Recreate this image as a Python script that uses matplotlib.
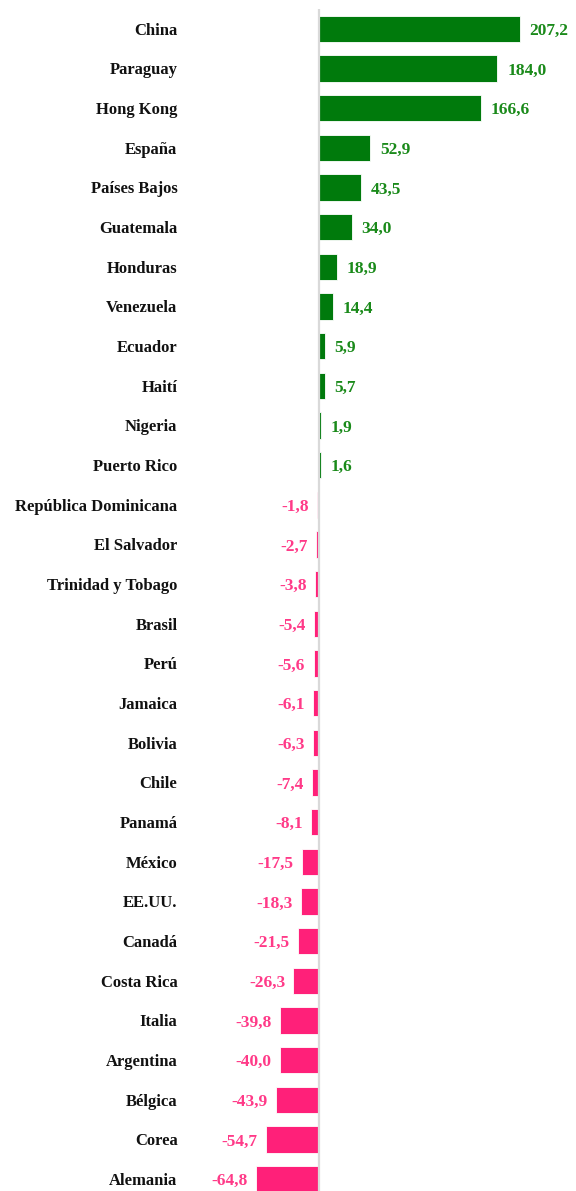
import matplotlib.pyplot as plt
import numpy as np

paises = ["China", "Paraguay", "Hong Kong", "España", "Países Bajos", "Guatemala",
          "Honduras", "Venezuela", "Ecuador", "Haití", "Nigeria", "Puerto Rico",
          "República Dominicana", "El Salvador", "Trinidad y Tobago", "Brasil", "Perú",
          "Jamaica", "Bolivia", "Chile", "Panamá", "México", "EE.UU.", "Canadá",
          "Costa Rica", "Italia", "Argentina", "Bélgica", "Corea", "Alemania"]
valores = [207.2, 184.0, 166.6, 52.9, 43.5, 34.0, 18.9, 14.4, 5.9, 5.7, 1.9, 1.6,
           -1.8, -2.7, -3.8, -5.4, -5.6, -6.1, -6.3, -7.4, -8.1, -17.5, -18.3, -21.5,
           -26.3, -39.8, -40.0, -43.9, -54.7, -64.8]

verde = "#007A0C"
rosa = "#FF2079"
verde_txt = "#1A8A1A"
rosa_txt = "#FF3A88"

plt.rcParams['font.family'] = ['Liberation Serif', 'DejaVu Serif']

fig = plt.figure(figsize=(5.76, 11.91), dpi=100)
ax = fig.add_axes([190 / 576, 0, 386 / 576, 1182 / 1191])

y = np.arange(len(paises))
colores = [verde if v > 0 else rosa for v in valores]
ax.barh(y, valores, height=0.66, color=colores, edgecolor="white", linewidth=0.6, zorder=2)
ax.axvline(0, color="#D9D9D9", linewidth=1.6, zorder=3)

for yi, v in zip(y, valores):
    txt = f"{v:.1f}".replace(".", ",")
    if v > 0:
        ax.annotate(txt, (v, yi), xytext=(7, -1.5), textcoords="offset points",
                    ha="left", va="center", color=verde_txt, fontweight="bold",
                    fontsize=12.5, annotation_clip=False)
    else:
        ax.annotate(txt, (v, yi), xytext=(-6, -1.5), textcoords="offset points",
                    ha="right", va="center", color=rosa_txt, fontweight="bold",
                    fontsize=12.5, annotation_clip=False)

ax.set_yticks(y)
ax.set_yticklabels(paises, fontweight="bold", fontsize=12, color="#111111")
ax.tick_params(axis="y", length=0, pad=9)
ax.set_xticks([])
ax.set_xlim(-(319 - 190) / 0.97, (576 - 319) / 0.97)
ax.set_ylim(29.3, -0.5)
for s in ax.spines.values():
    s.set_visible(False)

fig.savefig("out.png", dpi=100)
